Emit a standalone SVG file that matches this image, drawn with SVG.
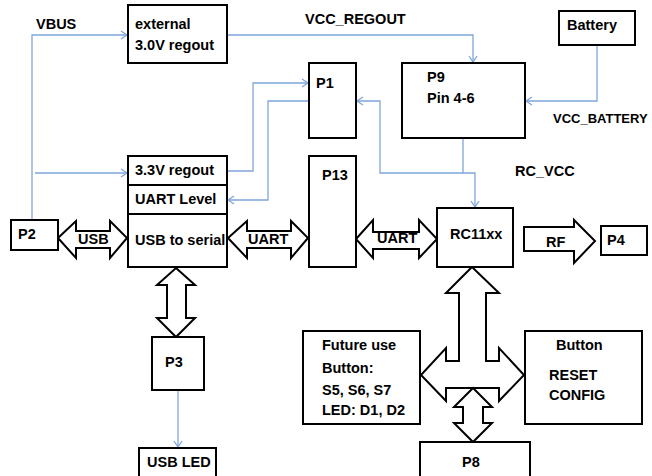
<svg xmlns="http://www.w3.org/2000/svg" width="652" height="476" viewBox="0 0 652 476">
<style>
.box{fill:#fff;stroke:#000;stroke-width:2}
.ar{fill:#fff;stroke:#000;stroke-width:2;stroke-linejoin:miter}
.t{font-family:"Liberation Sans",Arial,sans-serif;font-weight:bold;font-size:14.5px;fill:#000}
.c{fill:none;stroke:#7fa6da;stroke-width:1.3}
</style>
<defs>
<marker id="ah" markerUnits="userSpaceOnUse" markerWidth="12" markerHeight="12" refX="0" refY="0" viewBox="-8 -6 10 12" orient="auto">
<path d="M-6,-4 L0,0 L-6,4" fill="none" stroke="#7fa6da" stroke-width="1.3"/>
</marker>
</defs>
<rect width="652" height="476" fill="#fff"/>
<g id="connectors">
<path class="c" d="M32,220 V35 H127" marker-end="url(#ah)"/>
<path class="c" d="M35,173 H127" marker-end="url(#ah)"/>
<path class="c" d="M227,35 H473 V62" marker-end="url(#ah)"/>
<path class="c" d="M597,45 V101 H526" marker-end="url(#ah)"/>
<path class="c" d="M227,171 H253 V83 H308" marker-end="url(#ah)"/>
<path class="c" d="M309,101 H268 V200 H228" marker-end="url(#ah)"/>
<path class="c" d="M463,138 V173 H475 V207" marker-end="url(#ah)"/>
<path class="c" d="M463,173 H380 V101 H357" marker-end="url(#ah)"/>
<path class="c" d="M178,390 V447" marker-end="url(#ah)"/>
<polygon class="ar" points="58,238 76,221 76,231 110,231 110,221 127,238 110,258 110,248 76,248 76,258"/>
<polygon class="ar" points="228,238 247,221 247,231 291,231 291,221 308,238 291,258 291,248 247,248 247,258"/>
<polygon class="ar" points="356,239 373,220 373,232 419,232 419,220 437,239 419,258 419,249 373,249 373,258"/>
<polygon class="ar" points="524,227 574,227 574,220 595,241 574,263 574,251 524,251"/>
<polygon class="ar" points="176,268 195,285 186,285 186,318 195,318 176,337 157,318 167,318 167,285 157,285"/>
<polygon class="ar" points="472,267 499,293 486,293 486,361 499,361 499,348 524,375 499,401 499,388 446,388 446,401 421,375 446,348 446,361 459,361 459,293 446,293"/>
<polygon class="ar" points="473,388 492,407 483,407 483,423 492,423 473,442 454,423 463,423 463,407 454,407"/>
<text class="t" x="36" y="29">VBUS</text>
<text class="t" x="305" y="24">VCC_REGOUT</text>
<text class="t" x="553" y="123" style="font-size:13px">VCC_BATTERY</text>
<text class="t" x="515" y="176">RC_VCC</text>
<text class="t" x="78" y="244">USB</text>
<text class="t" x="248" y="244">UART</text>
<text class="t" x="377" y="243">UART</text>
<text class="t" x="546" y="247">RF</text>
</g>
<g id="external">
<rect class="box" x="128" y="5" width="99" height="58"/>
<text class="t" x="135" y="29">external</text>
<text class="t" x="135" y="50">3.0V regout</text>
</g>
<g id="p1">
<rect class="box" x="309" y="63" width="47" height="75"/>
<text class="t" x="316" y="88">P1</text>
</g>
<g id="p9">
<rect class="box" x="402" y="63" width="123" height="75"/>
<text class="t" x="427" y="82">P9</text>
<text class="t" x="427" y="103">Pin 4-6</text>
</g>
<g id="battery">
<rect class="box" x="559" y="11" width="76" height="34"/>
<text class="t" x="567" y="30">Battery</text>
</g>
<g id="usbserial">
<rect class="box" x="128" y="156" width="99" height="111"/>
<line x1="128" y1="185" x2="227" y2="185" stroke="#000" stroke-width="2"/>
<line x1="128" y1="214" x2="227" y2="214" stroke="#000" stroke-width="2"/>
<text class="t" x="135" y="175">3.3V regout</text>
<text class="t" x="135" y="204">UART Level</text>
<text class="t" x="135" y="245">USB to serial</text>
</g>
<g id="p13">
<rect class="box" x="309" y="156" width="47" height="111"/>
<text class="t" x="322" y="180">P13</text>
</g>
<g id="p2">
<rect class="box" x="11" y="220" width="47" height="30"/>
<text class="t" x="18" y="239">P2</text>
</g>
<g id="rc11xx">
<rect class="box" x="437" y="208" width="76" height="59"/>
<text class="t" x="450" y="239">RC11xx</text>
</g>
<g id="p4">
<rect class="box" x="601" y="226" width="46" height="29"/>
<text class="t" x="607" y="245">P4</text>
</g>
<g id="p3">
<rect class="box" x="152" y="337" width="52" height="53"/>
<text class="t" x="165" y="367">P3</text>
</g>
<g id="usbled">
<rect class="box" x="139" y="448" width="77" height="32"/>
<text class="t" x="147" y="467">USB LED</text>
</g>
<g id="future">
<rect class="box" x="303" y="331" width="117" height="93"/>
<text class="t" x="322" y="350">Future use</text>
<text class="t" x="322" y="373">Button:</text>
<text class="t" x="322" y="395">S5, S6, S7</text>
<text class="t" x="322" y="415">LED: D1, D2</text>
</g>
<g id="button">
<rect class="box" x="525" y="331" width="117" height="93"/>
<text class="t" x="556" y="350">Button</text>
<text class="t" x="549" y="380">RESET</text>
<text class="t" x="549" y="400">CONFIG</text>
</g>
<g id="p8">
<rect class="box" x="420" y="442" width="110" height="40"/>
<text class="t" x="462" y="467">P8</text>
</g>
</svg>
